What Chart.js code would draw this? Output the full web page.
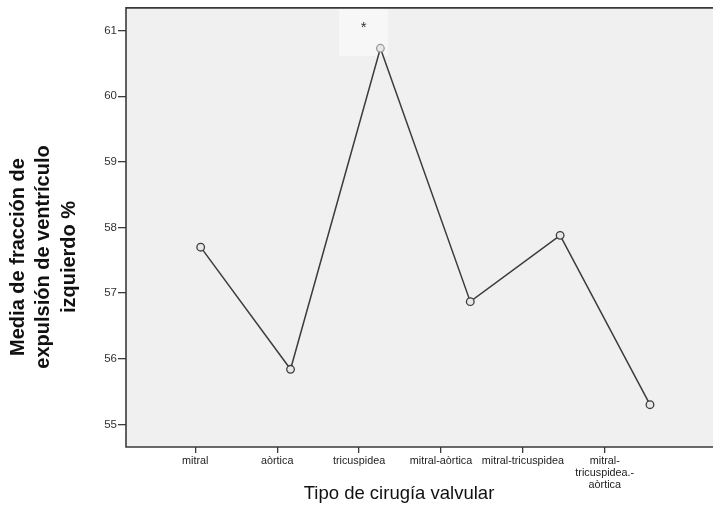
<!DOCTYPE html>
<html>
<head>
<meta charset="utf-8">
<script src="https://cdn.jsdelivr.net/npm/chart.js@4/dist/chart.umd.min.js"></script>
<style>
html,body{margin:0;padding:0;background:#fff;}
canvas{display:block;}
</style>
</head>
<body>
<canvas id="c" width="713" height="505"></canvas>
<script>
const categories = ['mitral', 'aòrtica', 'tricuspidea', 'mitral-aòrtica', 'mitral-tricuspidea', 'mitral-tricuspidea.-aòrtica'];
const tickLabels = ['mitral', 'aòrtica', 'tricuspidea', 'mitral-aòrtica', 'mitral-tricuspidea', ['mitral-', 'tricuspidea.-', 'aòrtica']];
const meanEF = [57.70, 55.84, 60.73, 56.87, 57.88, 55.30];
const yTicks = [55, 56, 57, 58, 59, 60, 61];
const yTitle = ['Media de fracción de', 'expulsión de ventrículo', 'izquierdo %'];
const xTitle = 'Tipo de cirugía valvular';
const markText = '*';

const FRAME = '#3a3a3a';

const decor = {
  id: 'decor',
  beforeDraw(chart) {
    const {ctx, chartArea: a} = chart;
    const W = chart.width;
    ctx.save();
    ctx.fillStyle = '#f0f0f0';
    ctx.fillRect(a.left, a.top, W - a.left, a.bottom - a.top);
    // highlighted box with asterisk
    const cx = chart.scales.x.getPixelForValue(2) + 4.5;
    ctx.fillStyle = '#f7f7f7';
    ctx.fillRect(cx - 24.5, a.top, 49, 48);
    ctx.fillStyle = '#333';
    ctx.font = '15px "Liberation Sans"';
    ctx.textAlign = 'center';
    ctx.textBaseline = 'middle';
    ctx.fillText(markText, cx, a.top + 20);
    ctx.restore();
  },
  afterDraw(chart) {
    const {ctx, chartArea: a} = chart;
    const W = chart.width;
    ctx.save();
    ctx.strokeStyle = FRAME;
    ctx.lineWidth = 1.6;
    ctx.beginPath();
    ctx.moveTo(W, a.top);
    ctx.lineTo(a.left, a.top);
    ctx.lineTo(a.left, a.bottom);
    ctx.lineTo(W, a.bottom);
    ctx.stroke();
    // titles
    ctx.fillStyle = '#111';
    ctx.textAlign = 'center';
    ctx.textBaseline = 'middle';
    ctx.font = '18.5px "Liberation Sans"';
    ctx.fillText(xTitle, 399, 494);
    ctx.translate(0, 257);
    ctx.rotate(-Math.PI / 2);
    ctx.font = 'bold 20px "Liberation Sans"';
    yTitle.forEach((t, i) => ctx.fillText(t, 0, 18 + i * 25.5));
    ctx.restore();
  }
};

new Chart(document.getElementById('c'), {
  type: 'line',
  data: {
    datasets: [{
      data: meanEF.map((v, i) => ({x: i, y: v})),
      xAxisID: 'xd',
      yAxisID: 'y',
      borderColor: '#3c3c3c',
      borderWidth: 1.5,
      pointRadius: 3.8,
      pointBorderWidth: 1.3,
      pointBorderColor: ['#3c3c3c', '#3c3c3c', '#999', '#3c3c3c', '#3c3c3c', '#3c3c3c'],
      pointBackgroundColor: '#e8e8e8',
      tension: 0
    }]
  },
  options: {
    responsive: false,
    animation: false,
    devicePixelRatio: 1,
    layout: {padding: {top: 5, right: 40, bottom: 0, left: 0}},
    plugins: {legend: {display: false}, tooltip: {enabled: false}},
    scales: {
      x: {
        type: 'linear',
        position: 'bottom',
        min: -0.846,
        max: 5.833,
        afterBuildTicks: s => { s.ticks = categories.map((_, i) => ({value: i})); },
        afterFit: s => { s.height = 58; },
        ticks: {
          callback: v => tickLabels[v],
          autoSkip: false,
          maxRotation: 0,
          font: {family: 'Liberation Sans', size: 10.8, lineHeight: 1.1},
          color: '#222',
          padding: 2
        },
        grid: {drawOnChartArea: false, tickLength: 6, color: FRAME, lineWidth: 1.3},
        border: {display: false}
      },
      xd: {
        type: 'linear',
        display: false,
        min: -0.831,
        max: 5.256
      },
      y: {
        type: 'linear',
        min: 54.656,
        max: 61.345,
        afterBuildTicks: s => { s.ticks = yTicks.map(v => ({value: v})); },
        afterFit: s => { s.width = 126; },
        ticks: {
          font: {family: 'Liberation Sans', size: 11.5},
          color: '#333',
          padding: 1
        },
        grid: {drawOnChartArea: false, tickLength: 8, color: FRAME, lineWidth: 1.3},
        border: {display: false}
      }
    }
  },
  plugins: [decor]
});
</script>
</body>
</html>
